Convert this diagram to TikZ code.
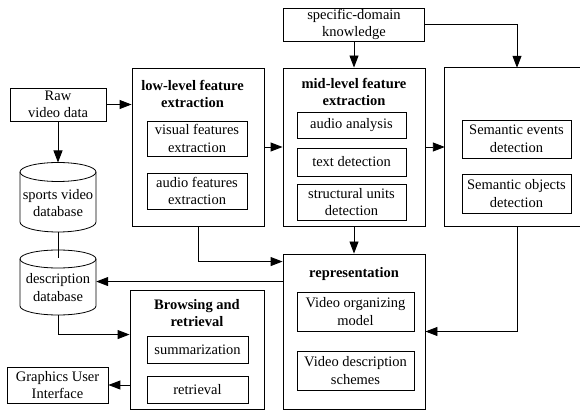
\documentclass[tikz,border=0pt]{standalone}
\usepackage{fontspec}
\setmainfont{Liberation Serif}
\usetikzlibrary{arrows.meta}
\begin{document}
\begin{tikzpicture}[x=1pt,y=-1pt,
  every node/.style={font=\fontsize{14.5}{17.5}\selectfont, align=center, inner sep=0pt},
  box/.style={draw, line width=0.8pt},
  bigbox/.style={draw, line width=0.9pt},
  ttl/.style={font=\fontsize{14.5}{17.5}\selectfont\bfseries},
  conn/.style={line width=0.9pt},
  arr/.style={conn, -{Triangle[length=12pt,width=9pt]}},
  cyl/.style={line width=0.8pt}
]
\useasboundingbox (0,0) rectangle (580,411);
% raw
\node[box, minimum width=96pt, minimum height=33pt] (raw) at (58,104.5) {Raw\\video data};
% low-level
\node[bigbox, minimum width=132pt, minimum height=158pt] (low) at (198,147) {};
\node[ttl] (lowt) at (192.5,94) {low-level feature\\extraction};
\node[box, minimum width=100pt, minimum height=35pt] (vis) at (197,138.5) {visual features\\extraction};
\node[box, minimum width=100pt, minimum height=36pt] (aud) at (197,191) {audio features\\extraction};
% mid-level
\node[bigbox, minimum width=142pt, minimum height=158pt] (mid) at (354,147) {};
\node[ttl] (midt) at (354,92) {mid-level feature\\extraction};
\node[box, minimum width=109pt, minimum height=26pt] (aa) at (351.5,125) {audio analysis};
\node[box, minimum width=109pt, minimum height=28pt] (td) at (351.5,162) {text detection};
\node[box, minimum width=109pt, minimum height=36pt] (su) at (351.5,202) {structural units\\detection};
% semantic
\node[minimum width=144pt, minimum height=158pt] (sem) at (517,147) {};
\draw[bigbox] (sem.north east) -- (sem.north west) -- (sem.south west) -- (sem.south east);
\node[box, minimum width=109pt, minimum height=38pt] (se) at (516.5,139) {Semantic events\\detection};
\node[box, minimum width=109pt, minimum height=39pt] (so) at (516.5,193.5) {Semantic objects\\detection};
% knowledge
\node[box, minimum width=141pt, minimum height=33pt] (sdk) at (354,24.5) {specific-domain\\knowledge};
% sports video database cylinder
\draw[cyl] (20,172) -- (20,222) arc[start angle=180, end angle=0, x radius=38, y radius=10] -- (96,172);
\draw[cyl] (58,172) ellipse[x radius=38, y radius=9.5];
\node[minimum width=76pt] (sdb) at (58,203) {sports video\\database};
\coordinate (sdbtop) at (58,162.5);
\coordinate (sdbbot) at (58,232);
% description database cylinder
\draw[cyl] (20,259) -- (20,306) arc[start angle=180, end angle=0, x radius=38, y radius=9] -- (96,259);
\draw[cyl] (58,259) ellipse[x radius=38, y radius=9];
\node[minimum width=76pt] (ddb) at (58,287.5) {description\\database};
\coordinate (ddbtop) at (58,258);
\coordinate (ddbbot) at (58,315);
% representation
\node[bigbox, minimum width=142pt, minimum height=155pt] (rep) at (354,331.5) {};
\node[ttl] (rept) at (354,274) {representation};
\node[box, minimum width=117pt, minimum height=39pt] (vom) at (355.5,311.5) {Video organizing\\model};
\node[box, minimum width=117pt, minimum height=39pt] (vds) at (355.5,370.5) {Video description\\schemes};
% browsing
\node[bigbox, minimum width=134pt, minimum height=119pt] (brw) at (197,349.5) {};
\node[ttl] (brwt) at (197,313) {Browsing and\\retrieval};
\node[box, minimum width=101pt, minimum height=27pt] (summ) at (197.5,349.5) {summarization};
\node[box, minimum width=101pt, minimum height=27pt] (retr) at (197.5,389.5) {retrieval};
% GUI
\node[box, minimum width=101pt, minimum height=36pt] (gui) at (57.5,385) {Graphics User\\Interface};
% helper coordinates
\coordinate (repA) at ([yshift=-8pt]rep.north west);
\coordinate (repB) at ([yshift=-28pt]rep.north west);
\coordinate (brwA) at ([yshift=-45pt]brw.north west);
% connectors
\draw[arr] (raw.east) -- (raw.east -| low.west);
\draw[arr] (raw.south) -- (sdbtop);
\draw[conn] (sdbbot) -- (ddbtop);
\draw[arr] (low.east) -- (mid.west);
\draw[arr] (mid.east) -- (mid.east -| sem.west);
\draw[arr] (sdk.south) -- (mid.north);
\draw[arr] (sdk.east) -| (sem.north);
\draw[arr] (sem.south) |- (rep.east);
\draw[arr] (mid.south) -- (rep.north);
\draw[arr] (low.south) |- (repA);
\draw[arr] (repB) -- (repB -| ddb.east);
\draw[arr] (ddbbot) |- (brwA);
\draw[arr] (gui.east -| brw.west) -- (gui.east);
\end{tikzpicture}
\end{document}
